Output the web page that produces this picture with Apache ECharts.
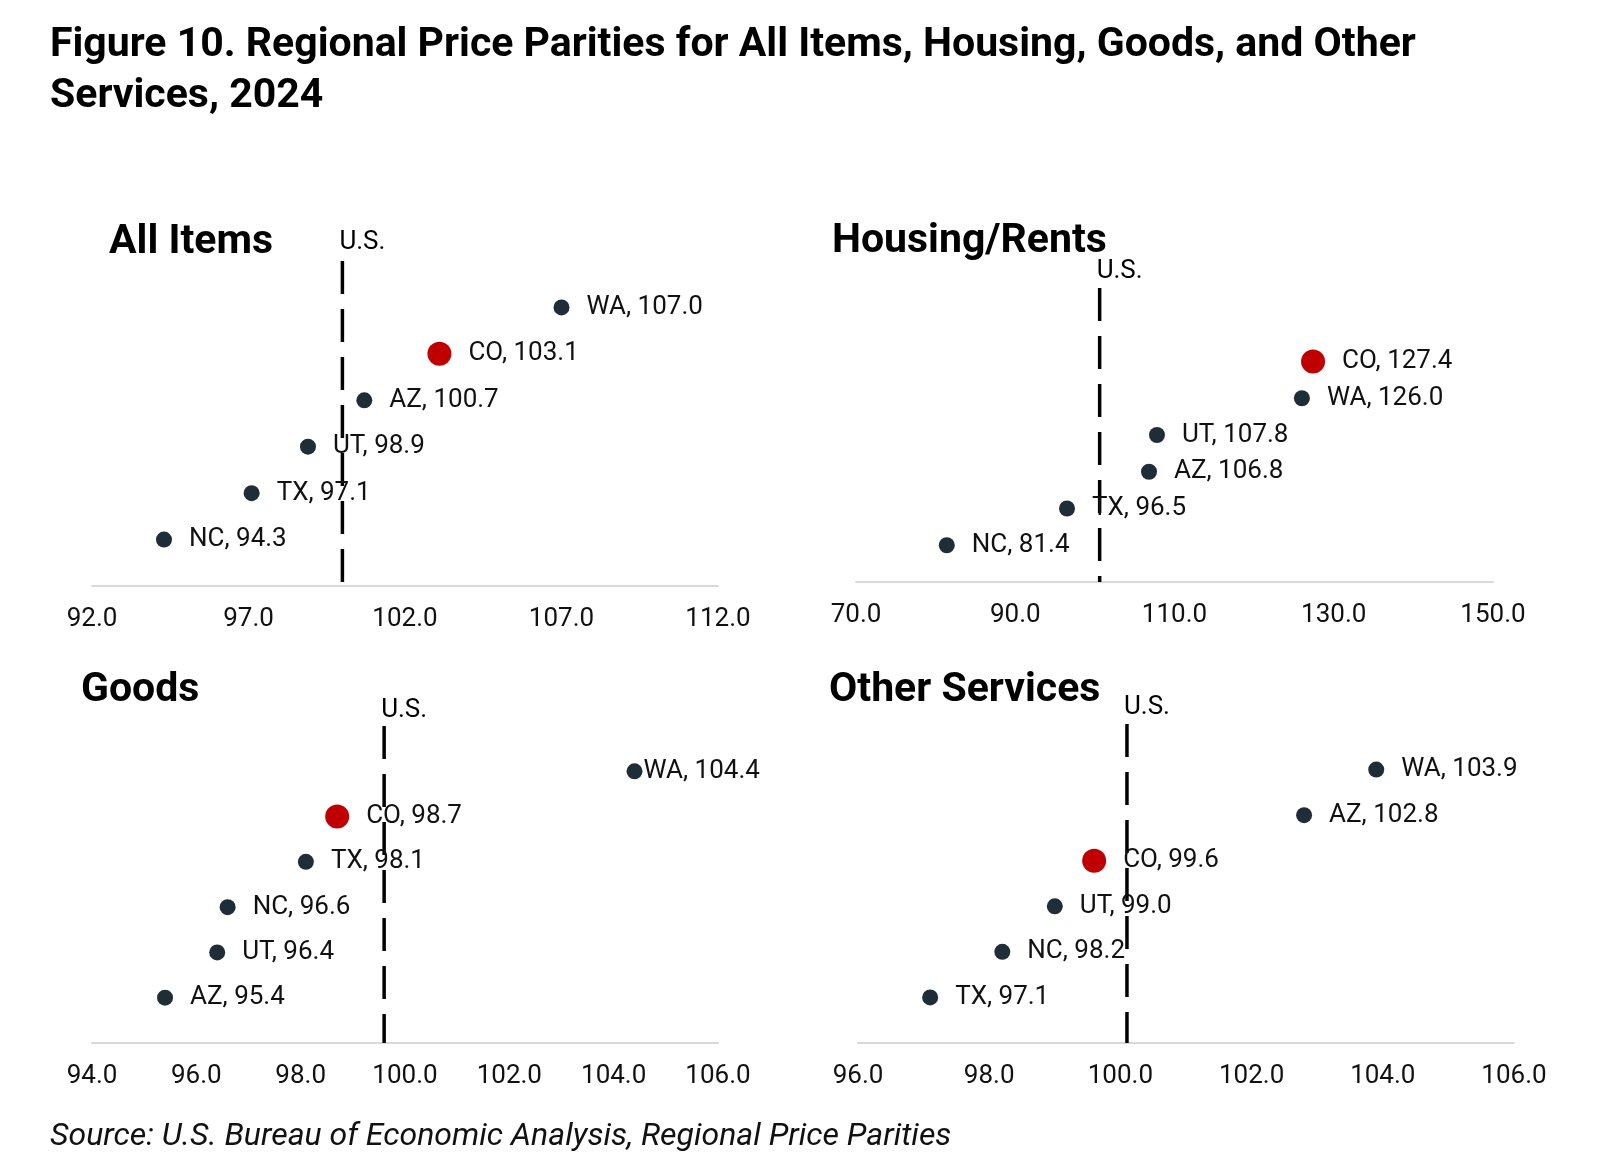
<!DOCTYPE html>
<html>
<head>
    <meta charset="utf-8">
    <title>Regional Price Parities 2024</title>
    <script src="https://cdn.jsdelivr.net/npm/echarts@6/dist/echarts.min.js"></script>
    <style>
    html, body { margin: 0; padding: 0; background: #fff; }
    #main { width: 1608px; height: 1162px; }
    </style>
</head>
<body>
    <div id="main"></div>
    <script type="text/javascript">
        // data, listed bottom row first
        var allItemsStates = ['NC', 'TX', 'UT', 'AZ', 'CO', 'WA'];
        var allItemsValues = [94.3, 97.1, 98.9, 100.7, 103.1, 107.0];
        var housingStates = ['NC', 'TX', 'AZ', 'UT', 'WA', 'CO'];
        var housingValues = [81.4, 96.5, 106.8, 107.8, 126.0, 127.4];
        var goodsStates = ['AZ', 'UT', 'NC', 'TX', 'CO', 'WA'];
        var goodsValues = [95.4, 96.4, 96.6, 98.1, 98.7, 104.4];
        var otherStates = ['TX', 'NC', 'UT', 'CO', 'AZ', 'WA'];
        var otherValues = [97.1, 98.2, 99.0, 99.6, 102.8, 103.9];
        // where the U.S. reference line is drawn in each panel
        var usLine = [100.0, 100.6, 99.6, 100.1];
        // x axis ranges: [min, max, interval]
        var xRanges = [[92, 112, 5], [70, 150, 20], [94, 106, 2], [96, 106, 2]];
        var highlight = 'CO';

        var FONT = 'Roboto';
        var panels = [
            { title: 'All Items', states: allItemsStates, values: allItemsValues, ymax: 7,
              grid: { left: 92, top: 261, width: 626, height: 325 }, titlePos: [104, 217], usGap: 6 },
            { title: 'Housing/Rents', states: housingStates, values: housingValues, ymax: 8,
              grid: { left: 856, top: 288, width: 637, height: 294 }, titlePos: [827, 216], usGap: 4 },
            { title: 'Goods', states: goodsStates, values: goodsValues, ymax: 7,
              grid: { left: 92, top: 726, width: 626, height: 317 }, titlePos: [76, 665], usGap: 3 },
            { title: 'Other Services', states: otherStates, values: otherValues, ymax: 7,
              grid: { left: 858, top: 724, width: 656, height: 319 }, titlePos: [824, 665], usGap: 4 }
        ];

        var grids = [], xAxes = [], yAxes = [], series = [];
        var titles = [
            {
                text: 'Figure 10. Regional Price Parities for All Items, Housing, Goods, and Other\nServices, 2024',
                left: 45, top: 15,
                textStyle: { fontFamily: FONT, fontWeight: 'bold', fontSize: 41, lineHeight: 51, color: '#000' }
            },
            {
                text: 'Source: U.S. Bureau of Economic Analysis, Regional Price Parities',
                left: 45, top: 1116,
                textStyle: { fontFamily: FONT, fontStyle: 'italic', fontWeight: 'normal', fontSize: 32, color: '#111' }
            }
        ];

        panels.forEach(function (p, i) {
            grids.push(p.grid);
            titles.push({
                text: p.title, left: p.titlePos[0], top: p.titlePos[1],
                textStyle: { fontFamily: FONT, fontWeight: 'bold', fontSize: 41, color: '#000' }
            });
            xAxes.push({
                type: 'value', gridIndex: i,
                min: xRanges[i][0], max: xRanges[i][1], interval: xRanges[i][2],
                axisLine: { show: true, onZero: false, lineStyle: { color: '#d9d9d9', width: 2 } },
                axisTick: { show: false },
                splitLine: { show: false },
                axisLabel: {
                    margin: 20, fontFamily: FONT, fontSize: 26, color: '#111',
                    formatter: function (v) { return v.toFixed(1); }
                }
            });
            yAxes.push({
                type: 'value', gridIndex: i, min: 0, max: p.ymax, show: false
            });

            // dashed U.S. line, drawn from the top down
            series.push({
                type: 'line', xAxisIndex: i, yAxisIndex: i, silent: true,
                symbol: 'none', z: 1,
                lineStyle: { color: '#000', width: 3.5, type: [33, 15] },
                data: [[usLine[i], p.ymax], [usLine[i], 0]]
            });
            series.push({
                type: 'scatter', xAxisIndex: i, yAxisIndex: i, silent: true,
                symbolSize: 0,
                itemStyle: { opacity: 1 },
                label: {
                    show: true, position: 'top', align: 'left', distance: p.usGap, offset: [-3, 0],
                    formatter: 'U.S.', fontFamily: FONT, fontSize: 26, color: '#000'
                },
                data: [[usLine[i], p.ymax]]
            });

            // state dots
            var pts = p.states.map(function (s, k) {
                var isHi = s === highlight;
                var item = {
                    name: s,
                    value: [p.values[k], k + 1],
                    symbolSize: isHi ? 24 : 16,
                    itemStyle: { color: isHi ? '#c00000' : '#1f2d37', opacity: 1 }
                };
                // Goods WA label sits right against its dot
                if (i === 2 && s === 'WA') item.label = { distance: 1 };
                return item;
            });
            series.push({
                type: 'scatter', xAxisIndex: i, yAxisIndex: i, z: 3,
                symbol: 'circle',
                label: {
                    show: true, position: 'right', distance: 17,
                    fontFamily: FONT, fontSize: 26, color: '#111',
                    formatter: function (d) { return d.name + ', ' + d.value[0].toFixed(1); }
                },
                data: pts
            });
        });

        var myChart = echarts.init(document.getElementById('main'));
        myChart.setOption({
            backgroundColor: '#fff',
            animation: false,
            title: titles,
            grid: grids,
            xAxis: xAxes,
            yAxis: yAxes,
            series: series
        });
    </script>
</body>
</html>
